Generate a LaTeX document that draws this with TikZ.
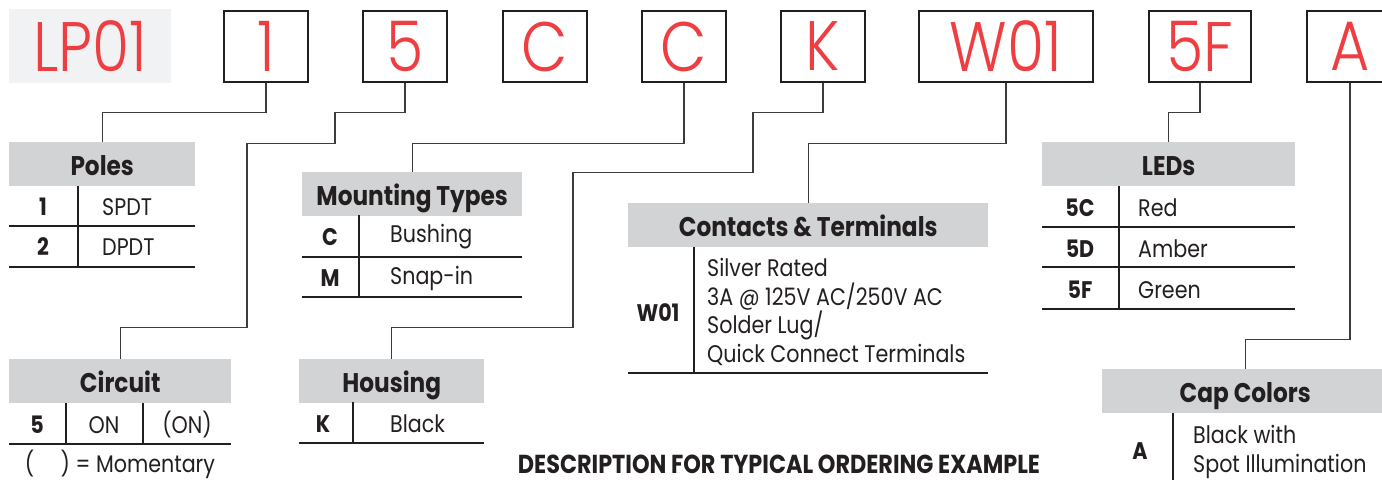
\documentclass[tikz,border=0pt]{standalone}
\usepackage{fontspec}
\setmainfont{Poppins}[FakeStretch=0.86]
\IfFontExistsTF{Poppins Light}
	{\newfontfamily\codefont{Poppins Light}[FakeStretch=0.86]}
	{\newfontfamily\codefont{Poppins}[FakeStretch=0.86]}
\usetikzlibrary{positioning}
\definecolor{codered}{RGB}{239,62,66}
\definecolor{boxgray}{RGB}{35,31,32}
\definecolor{lpgray}{RGB}{241,242,244}
\definecolor{hdrgray}{RGB}{209,211,212}
\definecolor{linkgray}{RGB}{60,60,60}
\definecolor{ink}{RGB}{35,31,32}
\tikzstyle{codebox} = [draw=boxgray, line width=2.5pt, minimum width=84pt, minimum height=71pt, inner sep=0pt, text=codered, font=\codefont\fontsize{70}{70}\selectfont]
\tikzstyle{hdr} = [fill=hdrgray, minimum height=44pt, inner sep=0pt, text height=23pt, text depth=0pt, anchor=north west, text=ink, font=\fontsize{27}{30}\selectfont\bfseries]
\tikzstyle{key} = [text=ink, inner sep=0pt, font=\fontsize{24}{28}\selectfont\bfseries]
\tikzstyle{val} = [text=ink, inner sep=0pt, anchor=west, align=left, font=\fontsize{24}{28.7}\selectfont]
\tikzstyle{rule} = [draw=ink, line width=1.2pt]
\tikzstyle{link} = [draw=linkgray, line width=1.3pt]

\begin{document}
\begin{tikzpicture}[x=1pt, y=-1pt]
	\useasboundingbox (0,0) rectangle (1382,480);
	% ordering code
	\node (lp) [fill=lpgray, minimum width=162pt, minimum height=74pt, inner sep=0pt, text=codered, font=\codefont\fontsize{70}{70}\selectfont] at (90,46) {LP01};
	\node (b1) [codebox] at (266,46.5) {1};
	\node (b2) [codebox] at (405,46.5) {5};
	\node (b3) [codebox] at (545,46.5) {C};
	\node (b4) [codebox] at (684,46.5) {C};
	\node (b5) [codebox] at (823,46.5) {K};
	\node (b6) [codebox, minimum width=174pt] at (1006,46.5) {W01};
	\node (b7) [codebox, minimum width=102pt] at (1200,46.5) {5F};
	\node (b8) [codebox, minimum width=86pt] at (1350,46.5) {A};

	% poles
	\node (poles) [hdr, minimum width=186pt] at (9,142) {Poles};
	\draw [rule] (78,186) -- (78,267);
	\draw [rule] (9,226) -- (195,226);
	\draw [rule] (9,267) -- (195,267);
	\node (p1) [key] at (43,207) {1};
	\node (p1v) [val] at (102,207) {SPDT};
	\node (p2) [key] at (43,247) {2};
	\node (p2v) [val] at (102,247) {DPDT};

	% circuit
	\node (circuit) [hdr, minimum width=222pt] at (9,359) {Circuit};
	\draw [rule] (66,403) -- (66,444);
	\draw [rule] (143,403) -- (143,444);
	\draw [rule] (9,444) -- (231,444);
	\node (c1) [key] at (37,425) {5};
	\node (c1a) [val, anchor=center] at (104,425) {ON};
	\node (c1b) [val, anchor=center] at (187,425) {(ON)};
	\node (note) [val, anchor=center] at (120,464) {(\hspace{1.1em}) = Momentary};

	% mounting types
	\node (mount) [hdr, minimum width=220pt] at (302,172) {Mounting Types};
	\draw [rule] (359,215) -- (359,297);
	\draw [rule] (302,257) -- (522,257);
	\draw [rule] (302,297) -- (522,297);
	\node (m1) [key] at (330,237) {C};
	\node (m1v) [val] at (390,237) {Bushing};
	\node (m2) [key] at (330,278) {M};
	\node (m2v) [val] at (390,278) {Snap-in};

	% housing
	\node (housing) [hdr, minimum width=185pt] at (299,359) {Housing};
	\draw [rule] (353,402) -- (353,443);
	\draw [rule] (299,443) -- (484,443);
	\node (h1) [key] at (323,424) {K};
	\node (h1v) [val] at (390,424) {Black};

	% contacts & terminals
	\node (contacts) [hdr, minimum width=360pt] at (628,203) {Contacts \& Terminals};
	\draw [rule] (694,247) -- (694,373);
	\draw [rule] (628,373) -- (988,373);
	\node (t1) [key] at (658,313) {W01};
	\node (t1v) [val] at (707,312) {Silver Rated\\3A @ 125V AC/250V AC\\Solder Lug/\\Quick Connect Terminals};

	% leds
	\node (leds) [hdr, minimum width=253pt] at (1042,142) {LEDs};
	\draw [rule] (1119,186) -- (1119,309);
	\foreach \y in {227,267,309}
		\draw [rule] (1042,\y) -- (1295,\y);
	\node (l1) [key] at (1080,208) {5C};
	\node (l1v) [val] at (1138,208) {Red};
	\node (l2) [key] at (1080,249) {5D};
	\node (l2v) [val] at (1138,249) {Amber};
	\node (l3) [key] at (1080,290) {5F};
	\node (l3v) [val] at (1138,290) {Green};

	% cap colors
	\node (cap) [hdr, minimum width=286pt] at (1102,369) {Cap Colors};
	\draw [rule] (1173,413) -- (1173,480);
	\node (a1) [key] at (1140,451) {A};
	\node (a1v) [val] at (1193,452) {Black with\\Spot Illumination};

	\node (title) [text=ink, font=\fontsize{26}{28}\selectfont\bfseries] at (779,464) {DESCRIPTION FOR TYPICAL ORDERING EXAMPLE};

	% connectors
	\draw [link] (b1.south) -- ++(0,29) -| (poles.north);
	\draw [link] (b2.south) -- ++(0,29) -| ++(-70,31) -| ++(-88,184) -| (circuit.north);
	\draw [link] (b4.south) -- ++(0,60) -| (mount.north);
	\draw [link] (b5.south) -- ++(0,29) -| ++(-70,60) -| ++(-180,155) -| (housing.north);
	\draw [link] (b6.south) -- ++(0,60) -| (contacts.north);
	\draw [link] (b7.south) -- ++(0,29) -| (leds.north);
	\draw [link] (b8.south) -- ++(0,256) -| (cap.north);
\end{tikzpicture}
\end{document}
